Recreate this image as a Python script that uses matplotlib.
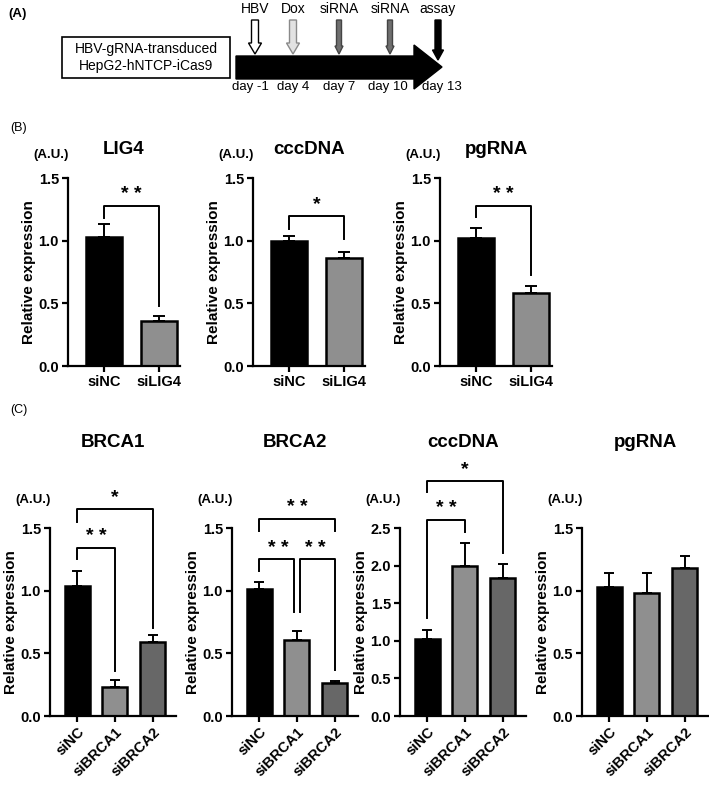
import numpy as np
import matplotlib
matplotlib.use("Agg")
import matplotlib.pyplot as plt
from matplotlib.patches import Rectangle, Polygon, FancyArrow

plt.rcParams['font.family'] = ['Liberation Sans', 'DejaVu Sans']

W, H = 709, 786

# ---- data ----
# panel A timeline
events = ["HBV", "Dox", "siRNA", "siRNA", "assay"]
days = ["day -1", "day 4", "day 7", "day 10", "day 13"]

# panel B (siLIG4)
b_groups = ["siNC", "siLIG4"]
b_titles = ["LIG4", "cccDNA", "pgRNA"]
b_means = [[1.03, 0.36], [1.00, 0.86], [1.02, 0.58]]
b_errs = [[0.10, 0.04], [0.04, 0.05], [0.08, 0.06]]
# brackets: (i, j, bracket height, left leg end, right leg end, label)
b_sig = [
    [(0, 1, 1.28, 1.18, 0.48, "**")],
    [(0, 1, 1.20, 1.09, 1.01, "*")],
    [(0, 1, 1.28, 1.19, 0.73, "**")],
]

# panel C (siBRCA1 / siBRCA2)
c_groups = ["siNC", "siBRCA1", "siBRCA2"]
c_titles = ["BRCA1", "BRCA2", "cccDNA", "pgRNA"]
c_means = [[1.04, 0.23, 0.59], [1.01, 0.61, 0.26], [1.03, 1.99, 1.83], [1.03, 0.98, 1.18]]
c_errs = [[0.12, 0.06, 0.06], [0.06, 0.07, 0.02], [0.11, 0.31, 0.19], [0.11, 0.16, 0.10]]
c_ymax = [1.5, 1.5, 2.5, 1.5]
c_sig = [
    [(0, 1, 1.34, 1.25, 0.36, "**"), (0, 2, 1.65, 1.55, 0.70, "*")],
    [(0, 2, 1.57, 1.48, 1.48, "**"), (0, 1, 1.25, 1.16, 0.83, "**"), (1, 2, 1.25, 0.83, 0.37, "**")],
    [(0, 1, 2.61, 1.30, 2.45, "**"), (0, 2, 3.13, 2.98, 2.17, "*")],
    [],
]

c_colors = ["black", "#8f8f8f", "#676767"]


def px_axes(x0, ytop, w, h):
    return fig.add_axes([x0 / W, 1 - (ytop + h) / H, w / W, h / H])


def bar_panel(ax, groups, means, errs, ymax, sig, width, capsize, rot):
    n = len(groups)
    x = np.arange(n)
    ax.bar(x, means, width=width, color=c_colors[:n], edgecolor="black", linewidth=1.8, zorder=2)
    ax.errorbar(x, means, yerr=[np.zeros(n), errs], fmt="none", ecolor="black",
                elinewidth=1.4, capsize=capsize, capthick=1.4, zorder=1)
    ax.set_ylim(0, ymax)
    ax.set_yticks(np.arange(0, ymax + 0.01, 0.5))
    ax.set_yticklabels([f"{v:.1f}" for v in np.arange(0, ymax + 0.01, 0.5)])
    ax.set_xticks(x)
    if rot:
        ax.set_xticklabels(groups, rotation=45, ha="right", rotation_mode="anchor")
    else:
        ax.set_xticklabels(groups)
    for s in ["top", "right"]:
        ax.spines[s].set_visible(False)
    for s in ["left", "bottom"]:
        ax.spines[s].set_linewidth(1.6)
    ax.tick_params(width=1.6, length=4.5, labelsize=10.5, pad=2)
    for lab in ax.get_xticklabels() + ax.get_yticklabels():
        lab.set_fontweight("bold")
    ax.set_ylabel("Relative expression", fontsize=11, fontweight="bold", labelpad=2)
    off = 0.06 * ymax
    for (i, j, y, yl, yr, lab) in sig:
        xi, xj = float(i), float(j)
        # inset ends shared with another bracket at the same height
        for (k, m, y2, _, _, _) in sig:
            if (k, m) != (i, j) and abs(y2 - y) < 1e-6:
                if m == i:
                    xi += 0.08
                if k == j:
                    xj -= 0.08
        ax.plot([xi, xi, xj, xj], [yl, y, y, yr], color="black", lw=1.4, clip_on=False)
        ax.text((i + j) / 2, y + off, lab.replace("**", "* *"), ha="center", va="center",
                fontsize=14, fontweight="bold", clip_on=False)


fig = plt.figure(figsize=(W / 100, H / 100), dpi=100)

# ---- panel A ----
axA = fig.add_axes([0, 1 - 100 / H, 1, 100 / H])
axA.set_xlim(0, W)
axA.set_ylim(100, 0)
axA.axis("off")
axA.text(8, 14, "(A)", fontsize=9.5, fontweight="bold", va="center")
axA.add_patch(Rectangle((62, 37), 168, 41, fill=False, edgecolor="black", lw=1.2))
axA.text(146, 57.5, "HBV-gRNA-transduced\nHepG2-hNTCP-iCas9", ha="center", va="center",
         fontsize=10, linespacing=1.2)
axA.add_patch(Polygon([(236, 56), (414, 56), (414, 45), (442, 67), (414, 89), (414, 79), (236, 79)],
                      closed=True, color="black"))
ev_x = [255, 293, 339, 390, 438]
ev_style = [
    dict(fc="white", ec="black", width=7, hw=13, hl=11, end=54),
    dict(fc="#e2e2e2", ec="#8a8a8a", width=7, hw=13, hl=11, end=54),
    dict(fc="#6f6f6f", ec="#444444", width=5, hw=8, hl=8, end=54),
    dict(fc="#6f6f6f", ec="#444444", width=5, hw=8, hl=8, end=54),
    dict(fc="black", ec="black", width=6, hw=11, hl=10, end=60),
]
for xe, ev, st in zip(ev_x, events, ev_style):
    axA.add_patch(FancyArrow(xe, 20, 0, st["end"] - 20, width=st["width"], head_width=st["hw"],
                             head_length=st["hl"], length_includes_head=True,
                             fc=st["fc"], ec=st["ec"], lw=1.0, zorder=3))
    axA.text(xe, 9, ev, ha="center", va="center", fontsize=10)
day_x = [250, 293, 339, 388, 442]
for xd, d in zip(day_x, days):
    axA.text(xd, 87, d, ha="center", va="center", fontsize=9.5)

# ---- panel B ----
fig.text(10 / W, 1 - 128 / H, "(B)", fontsize=9, va="center")
for k, x0 in enumerate([68, 253, 440]):
    ax = px_axes(x0, 178, 112, 188)
    ax.set_xlim(-0.65, 1.38)
    bar_panel(ax, b_groups, b_means[k], b_errs[k], 1.5, b_sig[k], 0.64, 4.5, False)
    fig.text((x0 + 56) / W, 1 - 150 / H, b_titles[k], ha="center", va="center",
             fontsize=13.5, fontweight="bold")
    fig.text((x0 + 1) / W, 1 - 155 / H, "(A.U.)", ha="right", va="center",
             fontsize=9.5, fontweight="bold")

# ---- panel C ----
fig.text(10 / W, 1 - 410 / H, "(C)", fontsize=9, va="center")
for k, x0 in enumerate([50, 232, 400, 582]):
    ax = px_axes(x0, 528, 126, 188)
    ax.set_xlim(-0.72, 2.62)
    bar_panel(ax, c_groups, c_means[k], c_errs[k], c_ymax[k], c_sig[k], 0.66, 3.5, True)
    fig.text((x0 + 63) / W, 1 - 443 / H, c_titles[k], ha="center", va="center",
             fontsize=13.5, fontweight="bold")
    fig.text((x0 + 1) / W, 1 - 500 / H, "(A.U.)", ha="right", va="center",
             fontsize=9.5, fontweight="bold")

fig.savefig("out.png", dpi=100)
